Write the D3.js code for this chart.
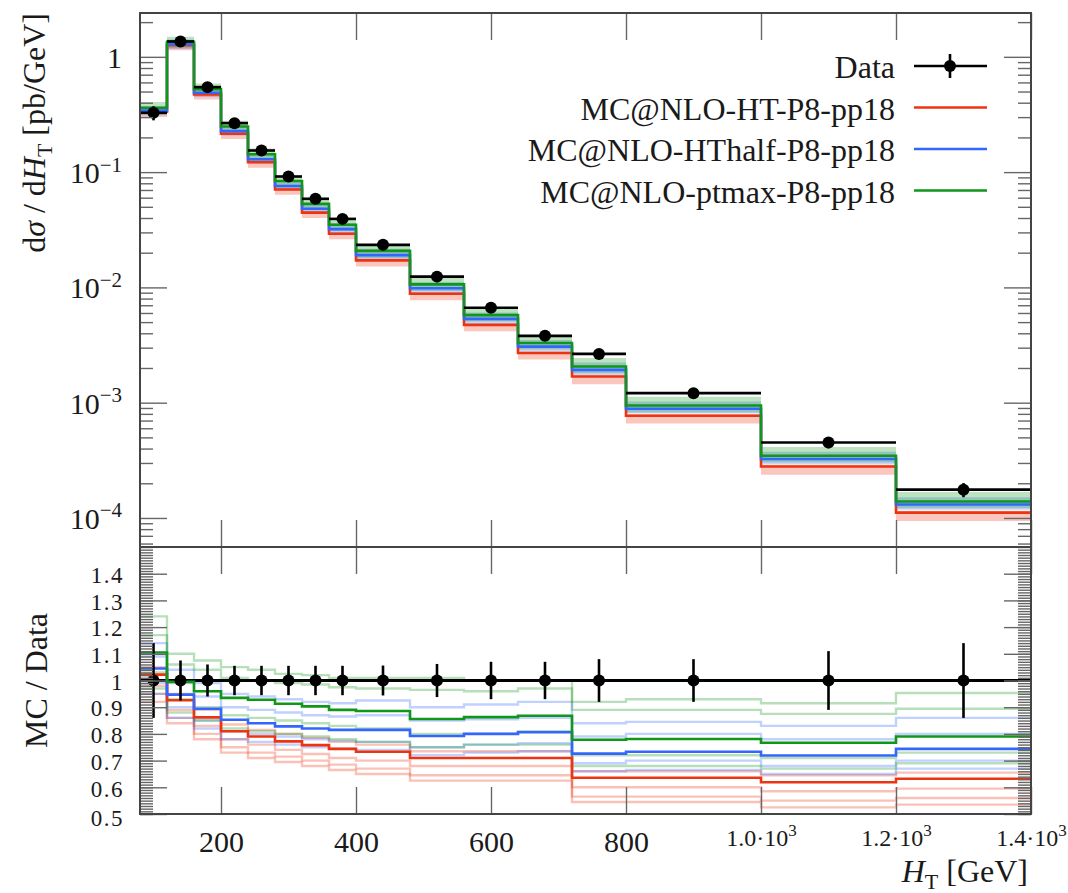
<!DOCTYPE html>
<html>
<head>
<meta charset="utf-8">
<script src="https://cdn.jsdelivr.net/npm/d3@7"></script>
<style>
  body { margin: 0; background: #fff; }
  text { font-family: "Liberation Serif", "DejaVu Serif", serif; fill: #1a1a1a; }
</style>
</head>
<body>
<svg id="chart" width="1068" height="893"></svg>
<script>
// bin edges in H_T [GeV]
const binEdges = [80, 120, 160, 200, 240, 280, 320, 360, 400, 480, 560, 640, 720, 800, 1000, 1200, 1400];

// measured cross section [pb/GeV] and relative uncertainty
const dataValues = [0.327, 1.36, 0.546, 0.266, 0.154, 0.0916, 0.0587, 0.0393, 0.0234, 0.0124, 0.00666, 0.0038, 0.00265, 0.00121, 0.000452, 0.000176];
const dataRelErr = [0.14, 0.075, 0.06, 0.055, 0.055, 0.055, 0.055, 0.055, 0.056, 0.062, 0.07, 0.07, 0.08, 0.08, 0.11, 0.14];

// MC / Data, nominal
const ratioHT = [1.022, 0.926, 0.862, 0.81, 0.79, 0.772, 0.758, 0.744, 0.733, 0.71, 0.71, 0.71, 0.636, 0.636, 0.619, 0.632];
const ratioHThalf = [1.045, 0.947, 0.894, 0.853, 0.84, 0.828, 0.82, 0.815, 0.815, 0.792, 0.8, 0.806, 0.726, 0.733, 0.719, 0.744];
const ratioPtmax = [1.105, 0.995, 0.96, 0.935, 0.928, 0.913, 0.903, 0.89, 0.886, 0.856, 0.863, 0.868, 0.778, 0.781, 0.767, 0.79];

// MC / Data, scale variations
const varsHT = [
  [1.05, 0.95, 0.89, 0.835, 0.815, 0.8, 0.785, 0.77, 0.76, 0.735, 0.735, 0.735, 0.66, 0.66, 0.645, 0.655],
  [0.98, 0.89, 0.83, 0.78, 0.76, 0.74, 0.725, 0.71, 0.7, 0.68, 0.68, 0.68, 0.6, 0.6, 0.585, 0.595],
  [0.95, 0.86, 0.8, 0.75, 0.73, 0.715, 0.7, 0.685, 0.67, 0.645, 0.645, 0.645, 0.565, 0.565, 0.55, 0.56],
  [0.92, 0.84, 0.78, 0.73, 0.71, 0.695, 0.68, 0.665, 0.65, 0.625, 0.625, 0.625, 0.545, 0.545, 0.525, 0.535],
];
const varsHThalf = [
  [1.14, 1.04, 0.99, 0.95, 0.94, 0.93, 0.92, 0.915, 0.925, 0.9, 0.91, 0.92, 0.84, 0.845, 0.83, 0.86],
  [1.09, 0.99, 0.94, 0.9, 0.89, 0.88, 0.87, 0.865, 0.87, 0.85, 0.855, 0.86, 0.79, 0.8, 0.78, 0.8],
  [0.99, 0.9, 0.85, 0.81, 0.8, 0.79, 0.78, 0.775, 0.77, 0.75, 0.76, 0.765, 0.69, 0.7, 0.68, 0.7],
  [0.95, 0.86, 0.82, 0.78, 0.77, 0.76, 0.75, 0.745, 0.74, 0.72, 0.73, 0.735, 0.66, 0.665, 0.65, 0.67],
];
const varsPtmax = [
  [1.24, 1.1, 1.075, 1.05, 1.04, 1.025, 1.02, 1.01, 1.01, 1.01, 1.0, 1.0, 0.92, 0.93, 0.915, 0.953],
  [1.17, 1.06, 1.04, 1.01, 1.0, 0.99, 0.985, 0.975, 0.97, 0.965, 0.96, 0.97, 0.89, 0.89, 0.875, 0.894],
  [1.03, 0.93, 0.9, 0.87, 0.86, 0.85, 0.84, 0.83, 0.82, 0.8, 0.8, 0.81, 0.72, 0.72, 0.71, 0.73],
  [0.97, 0.88, 0.85, 0.82, 0.81, 0.8, 0.79, 0.78, 0.77, 0.75, 0.76, 0.76, 0.68, 0.68, 0.67, 0.69],
];

const mcNames = ["MC@NLO-HT-P8-pp18", "MC@NLO-HThalf-P8-pp18", "MC@NLO-ptmax-P8-pp18"];
const mcColors = ["#ee3311", "#3366ff", "#109618"];
const mcRatios = [ratioHT, ratioHThalf, ratioPtmax];
const mcVars = [varsHT, varsHThalf, varsPtmax];

const xTicks = [200, 400, 600, 800, 1000, 1200, 1400];
const mainMajor = [1e-4, 1e-3, 1e-2, 1e-1, 1];
const ratioMajor = [0.5, 0.6, 0.7, 0.8, 0.9, 1.0, 1.1, 1.2, 1.3, 1.4];

const svg = d3.select("#chart");

const left = 140, right = 1031;
const mainTop = 13, mainBottom = 547, ratioBottom = 814;

const x = d3.scaleLinear().domain([80, 1400]).range([left, right]);
const y = d3.scaleLog().domain([5.6e-5, 2.4]).range([mainBottom, mainTop]);
const yr = d3.scaleLinear().domain([0.5, 1.5]).range([ratioBottom, mainBottom]);

const defs = svg.append("defs");
defs.append("clipPath").attr("id", "clipMain")
  .append("rect").attr("x", left).attr("y", mainTop).attr("width", right - left).attr("height", mainBottom - mainTop);
defs.append("clipPath").attr("id", "clipRatio")
  .append("rect").attr("x", left).attr("y", mainBottom).attr("width", right - left).attr("height", ratioBottom - mainBottom);

const steps = (vals) => vals.flatMap((v, i) => [[binEdges[i], v], [binEdges[i + 1], v]]);

// ---------- main panel ----------
const main = svg.append("g").attr("clip-path", "url(#clipMain)");

const bandArea = d3.area()
  .x((d) => x(d.x))
  .y0((d) => y(d.lo))
  .y1((d) => y(d.hi));
const mainLine = d3.line().x((d) => x(d[0])).y((d) => y(d[1]));

mcVars.forEach((vars, k) => {
  const pts = dataValues.flatMap((dv, i) => {
    const vs = vars.map((v) => v[i]).concat([mcRatios[k][i]]);
    const lo = dv * d3.min(vs), hi = dv * d3.max(vs);
    return [{ x: binEdges[i], lo, hi }, { x: binEdges[i + 1], lo, hi }];
  });
  main.append("path")
    .attr("d", bandArea(pts))
    .attr("fill", mcColors[k])
    .attr("fill-opacity", 0.28);
});

mcRatios.forEach((r, k) => {
  main.append("path")
    .attr("d", mainLine(steps(r.map((v, i) => v * dataValues[i]))))
    .attr("fill", "none")
    .attr("stroke", mcColors[k])
    .attr("stroke-width", 2.6);
});

// data
const dataG = main.append("g");
dataValues.forEach((v, i) => {
  const xc = (binEdges[i] + binEdges[i + 1]) / 2;
  dataG.append("line")
    .attr("x1", x(binEdges[i])).attr("x2", x(binEdges[i + 1]))
    .attr("y1", y(v)).attr("y2", y(v))
    .attr("stroke", "#000").attr("stroke-width", 2.6);
  dataG.append("line")
    .attr("x1", x(xc)).attr("x2", x(xc))
    .attr("y1", y(v * (1 - dataRelErr[i]))).attr("y2", y(v * (1 + dataRelErr[i])))
    .attr("stroke", "#000").attr("stroke-width", 2.6);
  dataG.append("circle")
    .attr("cx", x(xc)).attr("cy", y(v)).attr("r", 6).attr("fill", "#000");
});

// ---------- ratio panel ----------
const ratio = svg.append("g").attr("clip-path", "url(#clipRatio)");
const ratioLine = d3.line().x((d) => x(d[0])).y((d) => yr(d[1]));

mcVars.forEach((vars, k) => {
  vars.forEach((v) => {
    ratio.append("path")
      .attr("d", ratioLine(steps(v)))
      .attr("fill", "none")
      .attr("stroke", mcColors[k])
      .attr("stroke-opacity", 0.3)
      .attr("stroke-width", 2.4);
  });
});

// data line at 1
ratio.append("path")
  .attr("d", ratioLine(steps(dataValues.map(() => 1))))
  .attr("fill", "none").attr("stroke", "#000").attr("stroke-width", 2.8);

mcRatios.forEach((r, k) => {
  ratio.append("path")
    .attr("d", ratioLine(steps(r)))
    .attr("fill", "none")
    .attr("stroke", mcColors[k])
    .attr("stroke-width", 2.6);
});

dataRelErr.forEach((e, i) => {
  const xc = (binEdges[i] + binEdges[i + 1]) / 2;
  ratio.append("line")
    .attr("x1", x(xc)).attr("x2", x(xc))
    .attr("y1", yr(1 - e)).attr("y2", yr(1 + e))
    .attr("stroke", "#000").attr("stroke-width", 2.6);
  ratio.append("circle")
    .attr("cx", x(xc)).attr("cy", yr(1)).attr("r", 6).attr("fill", "#000");
});

// ---------- axes ----------
const tickColor = "#666";
const styleAxis = (g) => {
  g.select(".domain").remove();
  g.selectAll(".tick line").attr("stroke", tickColor).attr("stroke-width", 1.4);
  g.selectAll(".tick text").attr("fill", "#1a1a1a");
};

const mainMinor = y.ticks().filter((t) => !mainMajor.some((m) => Math.abs(m - t) / m < 1e-6));
const ratioMinor = d3.range(50, 151).map((v) => v / 100);

// main y, left
svg.append("g").attr("transform", `translate(${left},0)`)
  .call(d3.axisLeft(y).tickValues(mainMinor).tickSize(-13).tickSizeOuter(0).tickFormat(""))
  .call(styleAxis);
const mainYAxis = svg.append("g").attr("transform", `translate(${left},0)`)
  .call(d3.axisLeft(y).tickValues(mainMajor).tickSize(-27).tickSizeOuter(0).tickPadding(18).tickFormat(""))
  .call(styleAxis);
mainYAxis.selectAll(".tick text").each(function (d) {
  const t = d3.select(this).attr("font-size", 30).attr("dy", "0.35em").attr("font-family", null);
  const exp = Math.round(Math.log10(d));
  if (exp === 0) {
    t.text("1");
  } else {
    t.append("tspan").text("10");
    t.append("tspan").attr("font-size", 21).attr("dy", "-0.55em").text("\u2212" + (-exp));
  }
});
// main y, right
svg.append("g").attr("transform", `translate(${right},0)`)
  .call(d3.axisRight(y).tickValues(mainMinor).tickSize(-13).tickSizeOuter(0).tickFormat(""))
  .call(styleAxis);
svg.append("g").attr("transform", `translate(${right},0)`)
  .call(d3.axisRight(y).tickValues(mainMajor).tickSize(-27).tickSizeOuter(0).tickFormat(""))
  .call(styleAxis);

// ratio y
svg.append("g").attr("transform", `translate(${left},0)`)
  .call(d3.axisLeft(yr).tickValues(ratioMinor).tickSize(-13).tickSizeOuter(0).tickFormat(""))
  .call(styleAxis);
svg.append("g").attr("transform", `translate(${left},0)`)
  .call(d3.axisLeft(yr).tickValues(ratioMajor).tickSize(-27).tickSizeOuter(0).tickPadding(16).tickFormat(d3.format("~g")))
  .call(styleAxis)
  .call((g) => g.selectAll(".tick text").attr("font-size", 23).attr("letter-spacing", 1.5)
    .attr("font-family", null)
    .attr("dy", (d) => (d === 0.5 ? "0.5em" : "0.38em")));
svg.append("g").attr("transform", `translate(${right},0)`)
  .call(d3.axisRight(yr).tickValues(ratioMinor).tickSize(-13).tickSizeOuter(0).tickFormat(""))
  .call(styleAxis);
svg.append("g").attr("transform", `translate(${right},0)`)
  .call(d3.axisRight(yr).tickValues(ratioMajor).tickSize(-27).tickSizeOuter(0).tickFormat(""))
  .call(styleAxis);

// x ticks on top, middle and bottom
svg.append("g").attr("transform", `translate(0,${mainTop})`)
  .call(d3.axisTop(x).tickValues(xTicks).tickSize(-27).tickSizeOuter(0).tickFormat(""))
  .call(styleAxis);
svg.append("g").attr("transform", `translate(0,${mainBottom})`)
  .call(d3.axisBottom(x).tickValues(xTicks).tickSize(-27).tickSizeOuter(0).tickFormat(""))
  .call(styleAxis);
svg.append("g").attr("transform", `translate(0,${mainBottom})`)
  .call(d3.axisTop(x).tickValues(xTicks).tickSize(-27).tickSizeOuter(0).tickFormat(""))
  .call(styleAxis);
const xAxis = svg.append("g").attr("transform", `translate(0,${ratioBottom})`)
  .call(d3.axisBottom(x).tickValues(xTicks).tickSize(-27).tickSizeOuter(0).tickPadding(8).tickFormat(""))
  .call(styleAxis);
xAxis.selectAll(".tick text").each(function (d) {
  const t = d3.select(this).attr("font-family", null).attr("dy", "1em");
  if (d < 1000) {
    t.attr("font-size", 30).text(d);
  } else {
    t.attr("font-size", 24);
    t.append("tspan").text((d / 1000).toFixed(1) + "\u00b7" + "10");
    t.append("tspan").attr("font-size", 17).attr("dy", "-0.6em").text("3");
  }
});

// frames
[[mainTop, mainBottom], [mainBottom, ratioBottom]].forEach(([t, b]) => {
  svg.append("rect")
    .attr("x", left).attr("y", t).attr("width", right - left).attr("height", b - t)
    .attr("fill", "none").attr("stroke", "#444").attr("stroke-width", 2);
});

// axis labels
const yLab = svg.append("text")
  .attr("transform", `translate(45,${mainTop}) rotate(-90)`)
  .attr("text-anchor", "end").attr("font-size", 32);
yLab.append("tspan").text("d");
yLab.append("tspan").attr("font-style", "italic").text("\u03c3");
yLab.append("tspan").text(" / d");
yLab.append("tspan").attr("font-style", "italic").text("H");
yLab.append("tspan").attr("font-size", 22).attr("dy", 7).text("T");
yLab.append("tspan").attr("dy", -7).text(" [pb/GeV]");

svg.append("text")
  .attr("transform", `translate(47,${yr(1)}) rotate(-90)`)
  .attr("text-anchor", "middle").attr("font-size", 32)
  .text("MC / Data");

const xLab = svg.append("text")
  .attr("x", 1028).attr("y", 882)
  .attr("text-anchor", "end").attr("font-size", 32);
xLab.append("tspan").attr("font-style", "italic").text("H");
xLab.append("tspan").attr("font-size", 22).attr("dy", 7).text("T");
xLab.append("tspan").attr("dy", -7).text(" [GeV]");

// legend
const legend = svg.append("g");
const legendRows = ["Data"].concat(mcNames);
legendRows.forEach((name, i) => {
  const base = 78 + i * 41.5;
  const ly = base - 12;
  legend.append("text")
    .attr("x", 895).attr("y", base)
    .attr("text-anchor", "end").attr("font-size", 32)
    .text(name);
  legend.append("line")
    .attr("x1", 914).attr("x2", 987).attr("y1", ly).attr("y2", ly)
    .attr("stroke", i === 0 ? "#000" : mcColors[i - 1])
    .attr("stroke-width", 2.6);
  if (i === 0) {
    legend.append("line")
      .attr("x1", 950).attr("x2", 950).attr("y1", ly - 12).attr("y2", ly + 12)
      .attr("stroke", "#000").attr("stroke-width", 2.6);
    legend.append("circle").attr("cx", 950).attr("cy", ly).attr("r", 6).attr("fill", "#000");
  }
});
</script>
</body>
</html>
